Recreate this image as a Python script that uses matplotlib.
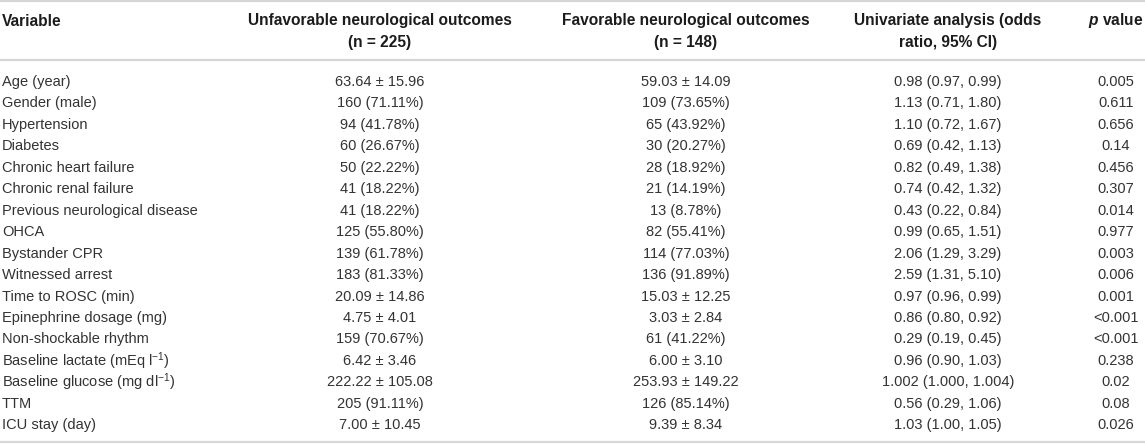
import matplotlib
matplotlib.use("Agg")
import matplotlib.pyplot as plt

plt.rcParams['font.family'] = ['Liberation Sans', 'DejaVu Sans']
plt.rcParams['mathtext.fontset'] = 'custom'
plt.rcParams['mathtext.rm'] = 'Liberation Sans'
plt.rcParams['mathtext.it'] = 'Liberation Sans:italic'
plt.rcParams['mathtext.bf'] = 'Liberation Sans:bold'
plt.rcParams['mathtext.bfit'] = 'Liberation Sans:italic:bold'

# table content
headers = [
    "Variable",
    "Unfavorable neurological outcomes\n(n = 225)",
    "Favorable neurological outcomes\n(n = 148)",
    "Univariate analysis (odds\nratio, 95% CI)",
    r"$\mathbfit{p}$ value",
]

variables = [
    "Age (year)", "Gender (male)", "Hypertension", "Diabetes",
    "Chronic heart failure", "Chronic renal failure",
    "Previous neurological disease", "OHCA", "Bystander CPR",
    "Witnessed arrest", "Time to ROSC (min)", "Epinephrine dosage (mg)",
    "Non-shockable rhythm", r"Baseline lactate (mEq l$^{-1}$)",
    r"Baseline glucose (mg dl$^{-1}$)", "TTM", "ICU stay (day)",
]

unfavorable = [
    "63.64 ± 15.96", "160 (71.11%)", "94 (41.78%)", "60 (26.67%)",
    "50 (22.22%)", "41 (18.22%)", "41 (18.22%)", "125 (55.80%)",
    "139 (61.78%)", "183 (81.33%)", "20.09 ± 14.86", "4.75 ± 4.01",
    "159 (70.67%)", "6.42 ± 3.46", "222.22 ± 105.08", "205 (91.11%)",
    "7.00 ± 10.45",
]

favorable = [
    "59.03 ± 14.09", "109 (73.65%)", "65 (43.92%)", "30 (20.27%)",
    "28 (18.92%)", "21 (14.19%)", "13 (8.78%)", "82 (55.41%)",
    "114 (77.03%)", "136 (91.89%)", "15.03 ± 12.25", "3.03 ± 2.84",
    "61 (41.22%)", "6.00 ± 3.10", "253.93 ± 149.22", "126 (85.14%)",
    "9.39 ± 8.34",
]

odds_ratio = [
    "0.98 (0.97, 0.99)", "1.13 (0.71, 1.80)", "1.10 (0.72, 1.67)",
    "0.69 (0.42, 1.13)", "0.82 (0.49, 1.38)", "0.74 (0.42, 1.32)",
    "0.43 (0.22, 0.84)", "0.99 (0.65, 1.51)", "2.06 (1.29, 3.29)",
    "2.59 (1.31, 5.10)", "0.97 (0.96, 0.99)", "0.86 (0.80, 0.92)",
    "0.29 (0.19, 0.45)", "0.96 (0.90, 1.03)", "1.002 (1.000, 1.004)",
    "0.56 (0.29, 1.06)", "1.03 (1.00, 1.05)",
]

p_values = [
    "0.005", "0.611", "0.656", "0.14", "0.456", "0.307", "0.014",
    "0.977", "0.003", "0.006", "0.001", "<0.001", "<0.001", "0.238",
    "0.02", "0.08", "0.026",
]

W, H = 1145, 444
fig = plt.figure(figsize=(W / 100, H / 100), dpi=100)
ax = fig.add_axes([0, 0, 1, 1])
ax.set_xlim(0, W)
ax.set_ylim(H, 0)
ax.axis('off')

col_x = [2, 380, 686, 948, 1116]
col_ha = ['left', 'center', 'center', 'center', 'center']
fs = 10.5
fs_head = 11.2
text_col = '#333333'
rule_col = '#d6d6d6'

# horizontal rules
for y in (1, 60, 442):
    ax.axhline(y, color=rule_col, lw=1.6)

# header
for x, ha, h in zip(col_x, col_ha, headers):
    for k, line in enumerate(h.split("\n")):
        ax.text(x, 21 + k * 22, line, ha=ha, va='center', fontsize=fs_head,
                fontweight='bold', color='#1c1c1c')

# body rows
columns = [variables, unfavorable, favorable, odds_ratio, p_values]
row0, step = 82, 21.45
for i in range(len(variables)):
    y = row0 + i * step
    for x, ha, col in zip(col_x, col_ha, columns):
        ax.text(x, y, col[i], ha=ha, va='center', fontsize=fs, color=text_col)

fig.savefig("out.png", dpi=100)
